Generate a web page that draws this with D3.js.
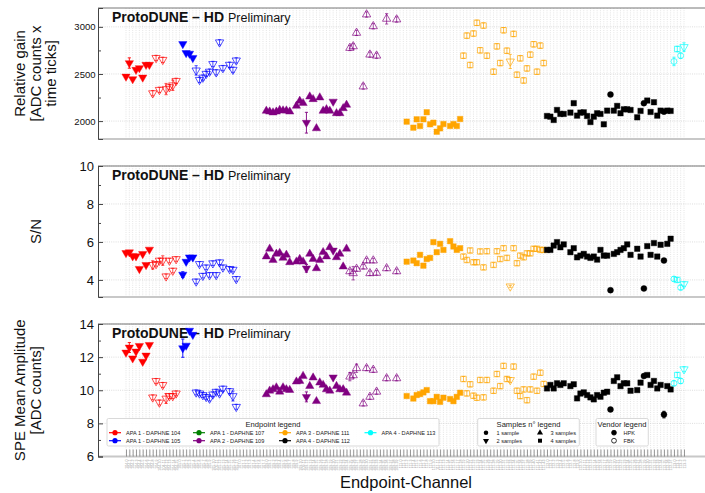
<!DOCTYPE html>
<html>
<head>
<meta charset="utf-8">
<script src="https://cdn.jsdelivr.net/npm/d3@7"></script>
<style>
  body { margin: 0; background: #fff; }
  svg { font-family: "Liberation Sans", Arial, Helvetica, sans-serif; }
</style>
</head>
<body>
<svg id="chart" width="705" height="493"></svg>
<script>
// ---- endpoints on the x axis ----
const endpoints = [104, 105, 107, 109, 111, 112, 113];
const endpointNames = ["APA 1 - DAPHNE 104", "APA 1 - DAPHNE 105", "APA 1 - DAPHNE 107",
  "APA 2 - DAPHNE 109", "APA 3 - DAPHNE 111", "APA 4 - DAPHNE 112", "APA 4 - DAPHNE 113"];
const endpointColors = ["#ff0000", "#0000ff", "#008000", "#800080", "#ffa500", "#000000", "#00ffff"];
const endpointNChannels = [16, 18, 8, 40, 44, 38, 4];

// ---- per endpoint measurements (channel, samples, vendor H=HPK F=FBK, gain, S/N, SPE amp) ----
const ch104 = [0, 1, 2, 3, 4, 5, 6, 7, 8, 9, 10, 11, 12, 13, 14, 15];
const samples104 = [2, 2, 2, 2, 2, 2, 2, 2, 2, 2, 2, 2, 2, 2, 2, 2];
const vendor104 = "HHHHHHHHFFFFFFFF";
const gain104 = [2473, 2616, 2446, 2545, 2563, 2463, 2598, 2598, 2296, 2670, 2332, 2650, 2340, 2360, 2380, 2427];
const sn104 = [5.42, 5.46, 5.25, 5.25, 4.58, 5.37, 4.79, 5.6, 4.79, 4.84, 5.02, 5.02, 4.19, 5.02, 4.49, 5.1];
const spe104 = [12.28, 12.58, 11.93, 12.34, 12.68, 11.73, 12.1, 12.74, 9.57, 10.56, 9.26, 10.32, 9.5, 9.65, 9.65, 9.81];

const ch105 = [1, 2, 3, 4, 5, 6, 7, 8, 9, 10, 11, 12, 13, 15, 16, 17];
const samples105 = [2, 2, 2, 2, 2, 2, 2, 2, 2, 2, 2, 2, 2, 2, 2, 2];
const vendor105 = "HHHHFFFFFFFFFFFF";
const gain105 = [2818, 2723, 2716, 2670, 2538, 2438, 2462, 2502, 2525, 2606, 2518, 2836, 2563, 2598, 2545, 2644];
const sn105 = [4.28, 4.96, 5.19, 5.19, 3.92, 4.84, 4.22, 4.66, 4.26, 4.88, 4.26, 4.93, 4.66, 4.58, 4.54, 4.05];
const spe105 = [12.54, 12.7, 13.6, 13.35, 9.87, 9.81, 9.71, 9.6, 9.5, 9.75, 9.91, 9.81, 10.1, 9.95, 9.65, 9.0];

const ch109 = [0, 1, 2, 3, 4, 5, 6, 7, 9, 10, 11, 12, 13, 14, 15, 16, 17, 18, 19, 20, 21, 22, 23, 24,
  25, 26, 27, 29, 30, 31, 32, 33, 36, 39];
const samples109 = [3, 3, 3, 3, 3, 3, 3, 3, 3, 3, 3, 2, 3, 3, 3, 3, 3, 3, 3, 2, 3, 3, 3, 3,
  3, 3, 3, 3, 3, 3, 3, 3, 3, 3];
const vendor109 = "HHHHHHHHHHHHHHHHHHHHHHHHFFFFFFFFFF";
const gain109 = [2108, 2100, 2090, 2100, 2118, 2111, 2111, 2100, 2161, 2214, 2190, 1983, 2260, 2232, 1923, 2250,
  2108, 2125, 2108, 2207, 2083, 2083, 2136, 2172, 2776, 2793, 2936, 2367, 3131, 2705, 3006, 2694, 3085, 3078];
const sn109 = [5.23, 5.64, 5.05, 5.37, 5.42, 5.16, 5.32, 4.93, 4.96, 5.1, 4.96, 4.61, 5.37, 5.1, 4.61, 5.05,
  5.46, 5.23, 5.72, 5.55, 5.19, 5.37, 4.7, 5.64, 4.45, 4.35, 4.58, 4.7, 5.02, 4.35, 5.02, 4.37, 4.61, 4.45];
const spe109 = [9.75, 9.97, 10.05, 10.17, 9.91, 10.17, 10.05, 10.01, 10.52, 10.56, 10.86, 9.6, 10.25, 10.76, 9.34, 10.46,
  10.32, 10.05, 9.97, 10.78, 10.25, 10.05, 10.05, 9.85, 10.82, 10.9, 11.33, 9.2, 11.33, 9.6, 11.23, 9.91, 10.72, 10.72];

const ch111 = [2, 4, 5, 6, 7, 8, 9, 10, 11, 12, 13, 15, 16, 17, 18,
  19, 20, 21, 22, 23, 24, 25, 26, 28, 29, 30, 31, 32, 33, 34, 35, 36, 37, 38, 39, 40, 41, 42, 43];
const samples111 = [4, 4, 4, 4, 4, 4, 4, 4, 4, 4, 4, 4, 4, 4, 4,
  4, 4, 4, 4, 4, 4, 4, 4, 4, 4, 4, 4, 4, 2, 4, 4, 4, 4, 4, 4, 4, 4, 4, 4];
const vendor111 = "HHHHHHHHHHHHHHHFFFFFFFFFFFFFFFFFFFFFFFF";
const gain111 = [1994, 1930, 2019, 1948, 2019, 2094, 1966, 1983, 1887, 1923, 1969, 1948, 1969, 1948, 2022,
  2694, 2907, 2595, 2929, 3043, 2751, 3014, 2694, 2524, 2793, 2616, 2964, 2747, 2633, 2925, 2492, 2666, 2431,
  2559, 2705, 2815, 2524, 2801, 2616];
const sn111 = [4.96, 5.02, 4.88, 5.32, 4.75, 5.1, 5.16, 5.99, 5.46, 5.9, 5.58, 6.04, 5.76, 5.58, 5.67,
  5.23, 5.05, 5.55, 4.93, 4.93, 5.5, 4.66, 5.51, 4.79, 5.51, 5.1, 5.67, 5.16, 3.66, 5.67, 4.88, 5.28, 5.19,
  5.4, 5.4, 5.64, 5.64, 5.58, 5.58];
const spe111 = [9.65, 9.5, 9.71, 9.77, 9.87, 10.01, 9.34, 9.34, 9.6, 9.3, 9.55, 9.47, 9.34, 9.6, 9.85,
  10.68, 9.81, 10.36, 9.67, 9.55, 10.62, 9.57, 10.62, 9.97, 10.98, 10.25, 11.47, 10.68, 10.62, 11.43, 9.97, 9.65, 10.05,
  9.4, 10.05, 10.82, 9.97, 11.06, 10.38];

const ch112 = [0, 1, 2, 3, 4, 5, 7, 8, 9, 10, 11, 12, 13, 14, 15, 16, 17, 18, 19, 20, 21, 22, 23, 24, 25,
  27, 28, 29, 30, 31, 32, 33, 34, 35, 36, 37];
const samples112 = [4, 4, 4, 4, 4, 4, 4, 4, 4, 4, 4, 4, 4, 4, 4, 4, 4, 4, 1, 4, 4, 4, 4, 4, 4,
  4, 4, 1, 4, 4, 4, 4, 4, 1, 4, 4];
const vendor112 = "HHHHHHHHHHHHHHHHHHHHHHHHHHHHHHHHHHHH";
const gain112 = [2054, 2047, 2012, 2118, 2076, 2076, 2090, 2190, 2058, 2090, 2093, 2054, 1990, 2047, 2083, 2076,
  1966, 2111, 2282, 2111, 2161, 2083, 2125, 2125, 2118, 2040, 2108, 2190, 2218, 2097, 2200, 2058, 2111, 2100, 2111, 2108];
const sn112 = [5.58, 5.58, 5.81, 5.99, 5.72, 5.87, 5.46, 5.67, 5.19, 5.28, 5.37, 5.23, 5.16, 5.23, 5.07, 5.58,
  5.28, 5.28, 3.46, 5.37, 5.46, 5.58, 5.67, 5.87, 5.32, 5.64, 5.23, 3.55, 5.78, 5.32, 5.94, 5.23, 5.85, 5.02, 5.9, 6.17];
const spe112 = [10.11, 10.32, 10.11, 10.42, 10.32, 10.42, 10.25, 10.36, 9.51, 9.8, 9.87, 9.71, 9.57, 9.45, 9.71, 9.61,
  9.85, 9.91, 8.84, 10.56, 10.78, 10.25, 10.42, 10.42, 9.97, 10.01, 10.46, 10.86, 10.92, 10.32, 10.56, 10.11, 10.32, 8.53, 10.25, 10.05];

const ch113 = [0, 1, 2, 3];
const samples113 = [1, 4, 1, 2];
const vendor113 = "FFFF";
const gain113 = [2633, 2765, 2694, 2786];
const sn113 = [4.05, 4.0, 3.6, 3.78];
const spe113 = [10.42, 10.92, 10.56, 11.27];

// ---- error bars [endpoint, channel, error]; FBK points get a typical error otherwise ----
const gainErrs = [[104, 1, 55], [104, 12, 60], [104, 14, 55], [105, 5, 50], [109, 12, 110], [109, 36, 55],
  [111, 33, 75], [113, 0, 45], [113, 3, 45]];
const snErrs = [[104, 8, 0.22], [104, 11, 0.25], [105, 1, 0.15], [109, 12, 0.2], [109, 26, 0.35], [111, 33, 0.05]];
const speErrs = [[104, 1, 0.3], [104, 12, 0.3], [105, 1, 0.55], [105, 16, 0.3], [109, 12, 0.3], [109, 25, 0.25],
  [109, 27, 0.25], [112, 35, 0.2]];
const typicalFbkErr = [28, 0.12, 0.15];

// ---- axis ticks ----
const gainTicks = [2000, 2500, 3000];
const gainMinor = [2250, 2750];
const snTicks = [4, 6, 8, 10];
const snMinor = [5, 7, 9];
const speTicks = [6, 8, 10, 12, 14];
const speMinor = [7, 9, 11, 13];

// build rows
const series = [
  { ep: 104, ch: ch104, samples: samples104, vendor: vendor104, vals: [gain104, sn104, spe104] },
  { ep: 105, ch: ch105, samples: samples105, vendor: vendor105, vals: [gain105, sn105, spe105] },
  { ep: 109, ch: ch109, samples: samples109, vendor: vendor109, vals: [gain109, sn109, spe109] },
  { ep: 111, ch: ch111, samples: samples111, vendor: vendor111, vals: [gain111, sn111, spe111] },
  { ep: 112, ch: ch112, samples: samples112, vendor: vendor112, vals: [gain112, sn112, spe112] },
  { ep: 113, ch: ch113, samples: samples113, vendor: vendor113, vals: [gain113, sn113, spe113] }
];

const categories = [];
endpoints.forEach((ep, i) => {
  for (let c = 0; c < endpointNChannels[i]; c++) categories.push(ep + "-" + c);
});

const svg = d3.select("#chart");
const xLeft = 98, xRight = 705;
const x = d3.scalePoint().domain(categories).range([126, 684]);

const panels = [
  { top: 8, bottom: 139, domain: [1810, 3200], ticks: gainTicks, minor: gainMinor, errs: gainErrs,
    title: ["Relative gain", "[ADC counts x", "time ticks]"], titleX: [20, 35.5, 50.5], tickFont: 9.5, pad: 2.5 },
  { top: 166, bottom: 297, domain: [3.1, 10], ticks: snTicks, minor: snMinor, errs: snErrs,
    title: ["S/N"], titleX: [35.5], tickFont: 13, pad: 4 },
  { top: 324, bottom: 456.5, domain: [6, 14], ticks: speTicks, minor: speMinor, errs: speErrs,
    title: ["SPE Mean Amplitude", "[ADC counts]"], titleX: [20, 35.5], tickFont: 13, pad: 4 }
];

const symbolFor = s => [null, d3.symbolCircle, d3.symbolTriangle, d3.symbolTriangle, d3.symbolSquare][s];
const sizeFor = s => [0, 28, 30, 30, 30][s];

panels.forEach((p, pi) => {
  const y = d3.scaleLinear().domain(p.domain).range([p.bottom, p.top]);
  const g = svg.append("g");

  // vertical dotted grid on each channel
  g.append("g").selectAll("line").data(categories).join("line")
    .attr("x1", d => x(d)).attr("x2", d => x(d))
    .attr("y1", p.top).attr("y2", p.bottom)
    .attr("stroke", "#d4d4d4").attr("stroke-width", 0.6).attr("stroke-dasharray", "1,1.2");

  // horizontal dotted grid
  g.append("g").selectAll("line").data(p.ticks).join("line")
    .attr("x1", xLeft).attr("x2", xRight)
    .attr("y1", d => y(d)).attr("y2", d => y(d))
    .attr("stroke", "#cfcfcf").attr("stroke-width", 0.7).attr("stroke-dasharray", "1,1.2");

  // frame
  g.append("line").attr("x1", xLeft).attr("x2", xRight).attr("y1", p.top).attr("y2", p.top)
    .attr("stroke", "#777").attr("stroke-width", 1);
  g.append("line").attr("x1", xLeft).attr("x2", xRight).attr("y1", p.bottom).attr("y2", p.bottom)
    .attr("stroke", "#c8c8c8").attr("stroke-width", 2);

  // y axis
  const ax = g.append("g").attr("transform", `translate(${xLeft},0)`)
    .call(d3.axisLeft(y).tickValues(p.ticks).tickSize(-5).tickPadding(p.pad).tickFormat(d3.format("d")));
  ax.select(".domain").attr("stroke", "#444");
  ax.selectAll(".tick line").attr("stroke", "#444");
  ax.selectAll("text").attr("font-size", p.tickFont).attr("fill", "#111")
    .attr("font-family", "Liberation Sans, Arial, sans-serif");
  const axm = g.append("g").attr("transform", `translate(${xLeft},0)`)
    .call(d3.axisLeft(y).tickValues(p.minor).tickSize(-3).tickFormat(""));
  axm.select(".domain").remove();
  axm.selectAll(".tick line").attr("stroke", "#444");

  // y title
  p.title.forEach((t, i) => {
    g.append("text")
      .attr("transform", `translate(${p.titleX[i]},${(p.top + p.bottom) / 2}) rotate(-90)`)
      .attr("text-anchor", "middle").attr("dy", "0.35em")
      .attr("font-size", 15).attr("fill", "#111").text(t);
  });

  // ProtoDUNE label
  const lab = g.append("text").attr("x", 112).attr("y", p.top + 13.5).attr("fill", "#111");
  lab.append("tspan").attr("font-weight", "bold").attr("font-size", 14).text("ProtoDUNE \u2013 HD");
  lab.append("tspan").attr("font-size", 12.5).attr("dx", 4).text("Preliminary");

  // points
  const errMap = new Map(p.errs.map(e => [e[0] + "-" + e[1], e[2]]));
  series.forEach(s => {
    const color = endpointColors[endpoints.indexOf(s.ep)];
    const vals = s.vals[pi];
    s.ch.forEach((c, i) => {
      const v = vals[i];
      if (v == null) return;
      const key = s.ep + "-" + c;
      const cx = x(key), cy = y(v);
      const fbk = s.vendor[i] === "F";
      let err = errMap.has(key) ? errMap.get(key) : (fbk ? typicalFbkErr[pi] : 0);
      const op = fbk ? 0.75 : 1;
      if (err > 0) {
        const e = g.append("g").attr("stroke", color).attr("stroke-opacity", op).attr("stroke-width", 0.9);
        e.append("line").attr("x1", cx).attr("x2", cx).attr("y1", y(v - err)).attr("y2", y(v + err));
        e.append("line").attr("x1", cx - 1.6).attr("x2", cx + 1.6).attr("y1", y(v - err)).attr("y2", y(v - err));
        e.append("line").attr("x1", cx - 1.6).attr("x2", cx + 1.6).attr("y1", y(v + err)).attr("y2", y(v + err));
      }
      const sm = s.samples[i];
      const rot = sm === 2 ? " rotate(180)" : "";
      g.append("path")
        .attr("d", d3.symbol().type(symbolFor(sm)).size(sizeFor(sm))())
        .attr("transform", `translate(${cx},${cy})${rot}`)
        .attr("fill", fbk ? "none" : color)
        .attr("stroke", color).attr("stroke-opacity", op)
        .attr("stroke-width", fbk ? 0.9 : 0.4);
    });
  });

  // x axis on the last panel
  if (pi === 2) {
    const xa = g.append("g").attr("transform", `translate(0,${p.bottom})`)
      .call(d3.axisBottom(x).tickSize(-7).tickPadding(3));
    xa.select(".domain").remove();
    xa.selectAll(".tick line").attr("stroke", "#555").attr("stroke-width", 0.6);
    xa.selectAll("text")
      .attr("font-size", 3.6).attr("fill", "#9a9a9a")
      .attr("text-anchor", "end").attr("transform", "rotate(-90)")
      .attr("x", -3).attr("y", 0).attr("dy", "0.35em");
  }
});

// x title
svg.append("text").attr("x", 406).attr("y", 488).attr("text-anchor", "middle")
  .attr("font-size", 16.5).attr("fill", "#111").text("Endpoint-Channel");

// ---- legends ----
const leg = svg.append("g").attr("font-family", "Liberation Sans, Arial, sans-serif");
function box(x0, x1, title, tx) {
  leg.append("rect").attr("x", x0).attr("y", 418.5).attr("width", x1 - x0).attr("height", 27.5)
    .attr("rx", 1.5).attr("fill", "#fff").attr("fill-opacity", 0.9).attr("stroke", "#cfcfcf").attr("stroke-width", 0.8);
  leg.append("text").attr("x", tx).attr("y", 426.8).attr("text-anchor", "middle")
    .attr("font-size", 7.6).attr("fill", "#222").text(title);
}
box(107, 439, "Endpoint legend", 273);
const colX = [115, 199, 285, 370.5];
const rowY = [432.7, 440.7];
endpointNames.forEach((n, i) => {
  const cx = colX[Math.floor(i / 2)], cy = rowY[i % 2];
  leg.append("line").attr("x1", cx - 6).attr("x2", cx + 6).attr("y1", cy).attr("y2", cy)
    .attr("stroke", endpointColors[i]).attr("stroke-width", 1.2);
  leg.append("circle").attr("cx", cx).attr("cy", cy).attr("r", 2.6).attr("fill", endpointColors[i]);
  leg.append("text").attr("x", cx + 11).attr("y", cy).attr("dy", "0.35em")
    .attr("font-size", 5.6).attr("fill", "#222").text(n);
});

const sampleLabels = ["1 sample", "2 samples", "3 samples", "4 samples"];
const sampleCounts = [1, 2, 3, 4];
box(477.7, 579.3, "Samples n\u00b0 legend", 528.5);
sampleCounts.forEach((s, i) => {
  const cx = i < 2 ? 486 : 540, cy = rowY[i % 2];
  leg.append("path").attr("d", d3.symbol().type(symbolFor(s)).size(16)())
    .attr("transform", `translate(${cx},${cy})${s === 2 ? " rotate(180)" : ""}`).attr("fill", "#000");
  leg.append("text").attr("x", cx + 10.5).attr("y", cy).attr("dy", "0.35em")
    .attr("font-size", 5.6).attr("fill", "#222").text(sampleLabels[i]);
});

const vendorLabels = ["HPK", "FBK"];
box(596, 648.3, "Vendor legend", 622);
vendorLabels.forEach((v, i) => {
  const cy = rowY[i];
  leg.append("circle").attr("cx", 614).attr("cy", cy).attr("r", 2.4)
    .attr("fill", i === 0 ? "#000" : "none").attr("stroke", "#000").attr("stroke-width", 0.8);
  leg.append("text").attr("x", 623.5).attr("y", cy).attr("dy", "0.35em")
    .attr("font-size", 5.6).attr("fill", "#222").text(v);
});
</script>
</body>
</html>
